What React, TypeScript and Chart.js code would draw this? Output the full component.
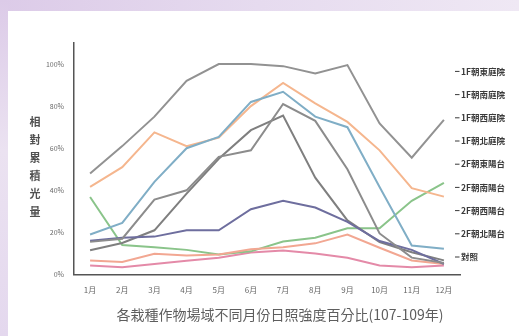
import React, { useEffect, useRef } from 'react';
import { Chart, registerables } from 'chart.js';

Chart.register(...registerables);

const FONT = '"Noto Sans CJK TC", "Noto Sans", sans-serif';

const MONTHS = ['1月', '2月', '3月', '4月', '5月', '6月', '7月', '8月', '9月', '10月', '11月', '12月'];

const SERIES_LABELS = [
  '1F朝東庭院',
  '1F朝南庭院',
  '1F朝西庭院',
  '1F朝北庭院',
  '2F朝東陽台',
  '2F朝南陽台',
  '2F朝西陽台',
  '2F朝北陽台',
  '對照',
];

const Y_TITLE = '相對累積光量';
const X_TITLE = '各栽種作物場域不同月份日照強度百分比(107-109年)';

// monthly relative light, percent
const EAST_1F = [19, 24.5, 44, 60, 65.4, 82, 86.8, 75, 70, 41.6, 13.8, 12.2];
const SOUTH_1F = [41.6, 51, 67.5, 61, 65, 80, 91, 81.3, 72.5, 59, 41, 37];
const WEST_1F = [15.5, 17, 35.6, 40, 55.9, 59, 81, 73, 50, 19.5, 8, 5.5];
const NORTH_1F = [16, 17.5, 18, 21, 21, 31, 35, 31.8, 25, 15.9, 11.7, 5];
const EAST_2F = [11.5, 15, 21, 38.4, 55, 68.6, 75.5, 46, 25.7, 15.4, 10.6, 6.7];
const SOUTH_2F = [6.7, 5.9, 9.8, 9, 9.5, 12, 13, 14.8, 19, 12.7, 6.7, 5];
const WEST_2F = [36.8, 14, 13, 11.7, 9.5, 11, 15.7, 17.5, 22, 22, 35, 43.5];
const NORTH_2F = [4.3, 3.5, 5, 6.5, 8, 10.5, 11.4, 10, 8, 4.3, 3.5, 4.3];
const CONTROL = [48, 61, 75, 92, 100, 100, 99, 95.5, 99.5, 71.8, 55.5, 73.5];

const SERIES_VALUES = [EAST_1F, SOUTH_1F, WEST_1F, NORTH_1F, EAST_2F, SOUTH_2F, WEST_2F, NORTH_2F, CONTROL];
const SERIES_COLORS = ['#80aec6', '#f5b68e', '#8c8c8c', '#6e6e9e', '#7f7f7f', '#f2a792', '#8ac48a', '#e48aa8', '#929292'];

const Y_TICK_STEP = 20;
const Y_TICK_LAST = 100;
const Y_AXIS_MAX = 110;

// draws the stacked vertical y title, the x title and the right-hand legend
const textOverlay = {
  id: 'textOverlay',
  afterDraw(chart: any) {
    const { ctx, chartArea } = chart;
    ctx.save();

    ctx.fillStyle = '#505050';
    ctx.font = `bold 11px ${FONT}`;
    ctx.textAlign = 'center';
    ctx.textBaseline = 'middle';
    const chars = Array.from(Y_TITLE);
    const step = 18;
    const cy = 167;
    chars.forEach((c, i) => {
      ctx.fillText(c, chartArea.left - 39, cy + (i - (chars.length - 1) / 2) * step);
    });

    ctx.fillStyle = '#5e5e5e';
    ctx.font = `14px ${FONT}`;
    ctx.fillText(X_TITLE, 280, chartArea.bottom + 40.5);

    ctx.font = `bold 8.5px ${FONT}`;
    ctx.textAlign = 'left';
    ctx.fillStyle = '#3a3a3a';
    chart.data.datasets.forEach((ds: any, i: number) => {
      const y = chartArea.top + 28.4 + i * 23.2;
      ctx.fillRect(chartArea.right - 5, y - 0.5, 4.5, 1);
      ctx.fillText(ds.label, chartArea.right + 1, y);
    });

    ctx.restore();
  },
};

export default function App() {
  const canvasRef = useRef<HTMLCanvasElement | null>(null);

  useEffect(() => {
    if (!canvasRef.current) return;
    const chart = new Chart(canvasRef.current, {
      type: 'line',
      data: {
        labels: MONTHS,
        datasets: SERIES_LABELS.map((label, i) => ({
          label,
          data: SERIES_VALUES[i],
          borderColor: SERIES_COLORS[i],
          backgroundColor: SERIES_COLORS[i],
          borderWidth: 2,
          pointRadius: 0,
          tension: 0,
          fill: false,
        })),
      },
      options: {
        responsive: false,
        animation: false,
        layout: { padding: { left: 0, top: 43, right: 59, bottom: 0 } },
        plugins: {
          legend: { display: false },
          tooltip: { enabled: false },
          title: { display: false },
        },
        scales: {
          x: {
            offset: true,
            grid: { display: false, drawTicks: false },
            border: { display: true, color: '#555', width: 1.5 },
            ticks: {
              color: '#666',
              font: { size: 8, family: FONT },
              padding: 11,
              maxRotation: 0,
              autoSkip: false,
            },
            afterFit: (s: any) => {
              s.height = 61.5;
            },
          },
          y: {
            min: 0,
            max: Y_AXIS_MAX,
            grid: { display: false, drawTicks: false },
            border: { display: true, color: '#555', width: 1.5 },
            ticks: {
              stepSize: Y_TICK_STEP,
              color: '#6a6a6a',
              font: { size: 7, family: FONT },
              padding: 10,
              callback: (v: any) => `${v}%`,
            },
            afterBuildTicks: (s: any) => {
              s.ticks = s.ticks.filter((t: any) => t.value <= Y_TICK_LAST);
            },
            afterFit: (s: any) => {
              s.width = 74;
            },
          },
        },
      },
      plugins: [textOverlay],
    });
    return () => chart.destroy();
  }, []);

  return (
    <div
      style={{
        position: 'fixed',
        left: 0,
        top: 0,
        width: 519,
        height: 336,
        overflow: 'hidden',
        background: 'linear-gradient(90deg, #dccbe8 0%, #e6dbef 50%, #efe8f4 100%)',
      }}
    >
      <div
        style={{
          position: 'absolute',
          left: 0,
          top: 0,
          width: 8,
          height: 336,
          background: 'linear-gradient(180deg, #dccbe8 0%, #ebe2f1 45%, #e4d8ee 100%)',
        }}
      />
      <div style={{ position: 'absolute', left: 8, top: 11, right: 0, bottom: 0, background: '#ffffff' }} />
      <canvas
        ref={canvasRef}
        width={519}
        height={336}
        style={{ position: 'absolute', left: 0, top: 0, display: 'block' }}
      />
    </div>
  );
}
